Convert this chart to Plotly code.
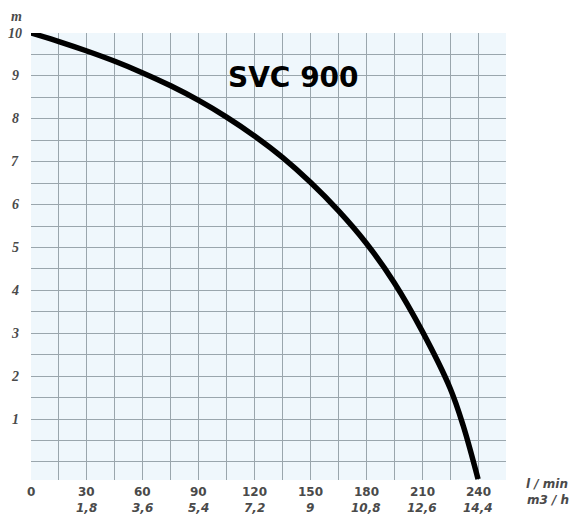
import plotly.graph_objects as go

# Data (flow in l/min, head in m)
flow_lpm = [0, 15, 30, 45, 60, 75, 90, 105, 120, 135, 150, 165, 180, 195, 210, 225, 232, 240]
head_m = [10, 9.8, 9.58, 9.34, 9.07, 8.77, 8.43, 8.04, 7.6, 7.1, 6.52, 5.86, 5.1, 4.18, 3.05, 1.72, 0.85, -0.4]

x_ticks = [0, 30, 60, 90, 120, 150, 180, 210, 240]
x_labels_lpm = ["0", "30", "60", "90", "120", "150", "180", "210", "240"]
x_labels_m3h = ["", "1,8", "3,6", "5,4", "7,2", "9", "10,8", "12,6", "14,4"]
y_ticks = [1, 2, 3, 4, 5, 6, 7, 8, 9, 10]
y_labels = ["1", "2", "3", "4", "5", "6", "7", "8", "9", "10"]
title_text = "SVC 900"

fig = go.Figure()
fig.add_trace(go.Scatter(
    x=flow_lpm, y=head_m, mode="lines",
    line=dict(color="black", width=5.5, shape="spline", smoothing=1.0),
    hoverinfo="skip", showlegend=False,
))

grid_col = "#9aa6ad"
fig.update_layout(
    width=579, height=515,
    margin=dict(l=31, r=73, t=33, b=35),
    paper_bgcolor="white",
    plot_bgcolor="#eff7fc",
    showlegend=False,
    xaxis=dict(range=[0, 255], tick0=0, dtick=15, showgrid=True, gridcolor=grid_col,
               gridwidth=1, showticklabels=False, zeroline=False, showline=False, ticks=""),
    yaxis=dict(range=[-0.42, 10], tick0=0, dtick=0.5, showgrid=True, gridcolor=grid_col,
               gridwidth=1, showticklabels=False, zeroline=False, showline=False, ticks=""),
)

sans_font = dict(family="DejaVu Sans, Verdana, sans-serif", size=12, color="#4a4a4a")
sans_ital = dict(family="DejaVu Sans, Verdana, sans-serif", size=12, color="#4a4a4a")
unit_font = dict(family="DejaVu Sans, Verdana, sans-serif", size=12, color="#4a4a4a")
ser_font = dict(family="Liberation Serif, Times New Roman, serif", size=14, color="#4a4a4a")

plot_top, plot_bot, plot_left, plot_right = 33, 480, 31, 506

def px(xp, yp):
    return (xp - plot_left) / (plot_right - plot_left), (plot_bot - yp) / (plot_bot - plot_top)

ann = []
for xv, t1, t2 in zip(x_ticks, x_labels_lpm, x_labels_m3h):
    ann.append(dict(x=xv, xref="x", y=px(0, 492)[1], yref="paper", xanchor="center",
                    yanchor="middle", text="<b>%s</b>" % t1, showarrow=False, font=sans_font))
    if t2:
        ann.append(dict(x=xv, xref="x", y=px(0, 508)[1], yref="paper", xanchor="center",
                        yanchor="middle", text="<b><i>%s</i></b>" % t2, showarrow=False,
                        font=sans_ital))
for yv, t in zip(y_ticks, y_labels):
    ann.append(dict(x=px(15, 0)[0], xref="paper", y=yv, yref="y", xanchor="center",
                    yanchor="middle", text="<b><i>%s</i></b>" % t, showarrow=False,
                    font=ser_font))

x0, y0 = px(16, 16)
ann.append(dict(x=x0, y=y0, xref="paper", yref="paper", xanchor="center", yanchor="middle",
                text="<b><i>m</i></b>", showarrow=False, font=ser_font))
for (xp, yp, txt) in [(547, 484, "l / min"), (548, 500, "m3 / h")]:
    x0, y0 = px(xp, yp)
    ann.append(dict(x=x0, y=y0, xref="paper", yref="paper", xanchor="center",
                    yanchor="middle", text="<b><i>%s</i></b>" % txt,
                    showarrow=False, font=unit_font))

x0, y0 = px(293, 78)
ann.append(dict(x=x0, y=y0, xref="paper", yref="paper", xanchor="center", yanchor="middle",
                text="<b>%s</b>" % title_text, showarrow=False,
                font=dict(family="DejaVu Sans, Verdana, sans-serif", size=28, color="black")))

fig.update_layout(annotations=ann)
fig.write_html("out.html", config={"displayModeBar": False},
               post_script="document.body.style.margin='0px';")
